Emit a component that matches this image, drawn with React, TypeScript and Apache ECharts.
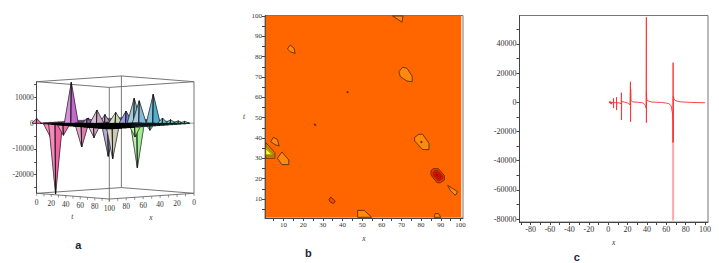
import React, { useEffect, useRef } from "react";
import * as echarts from "echarts";

// ---------- Panel a: surface (t, x, z) ----------
const surfacePeaks = [
  [0, 100, 1800], [8.5, 91.5, -5060], [12, 88, -27400], [17, 83, -4670], [22, 78, 15800],
  [28.6, 71.4, -9200], [32, 68, 1800], [36.4, 63.6, -5580], [38.3, 61.7, 5060], [45.5, 54.5, -12840],
  [48.3, 51.7, -13750], [50.2, 49.8, 4150], [56.8, 43.2, 4670], [62, 38, 9600], [65.2, 34.8, 8690],
  [64, 36, -17250], [62.5, 37.5, -5320], [74.1, 25.9, 11170], [72, 28, -2720],
  [14, 70, 900], [22, 58, 1500], [27, 52, 2400], [31, 46, 2800], [40, 40, 2200], [46, 34, 2600],
  [52, 28, 1800], [60, 18, 1500], [80, 20, 2000], [84, 14, 1300], [90, 10, 900], [94, 6, 700],
];
const zAxisLabels = [10000, 0, -10000, -20000];
const zAxisTicks = [15000, 10000, 5000, 0, -5000, -10000, -15000, -20000, -25000];
const tLabels = [0, 20, 40, 60, 80, 100];
const xLabels = [100, 80, 60, 40, 20, 0];
const axisMarks = [0, 10, 20, 30, 40, 50, 60, 70, 80, 90, 100];
const meshSteps = [0, 5, 10, 15, 20, 25, 30, 35, 40, 45, 50, 55, 60, 65, 70, 75, 80, 85, 90, 95];

// ---------- Panel b: contours of x, t ----------
const contourBase = [[1, 1], [100.4, 1], [100.4, 100], [1, 100]];
const contourLight = [
  [[65.5, 100], [70.3, 97], [70.8, 100]],
  [[13.4, 85.7], [15.4, 84.1], [15.9, 81.6], [13.4, 82.5], [12, 83.8]],
  [[70.6, 74.8], [72.8, 74.3], [75.4, 70.5], [75.5, 67.7], [72.8, 68], [69.4, 70.2], [68.7, 72.6]],
  [[78.8, 41.8], [80.8, 41.8], [84, 37.4], [84, 34.3], [80.8, 34.3], [76.7, 38.5], [76.7, 40.3]],
  [[4.9, 40.3], [6.9, 39.3], [7.8, 36.1], [5.8, 36.7], [3.5, 38.2]],
  [[9.2, 33.1], [12.7, 29.2], [12.7, 26.9], [9.2, 26.9], [6.9, 30]],
  [[93.5, 16.7], [98.6, 13.6], [97.4, 11.8], [94.9, 14.1]],
  [[47.7, 1], [47.7, 4.4], [51.1, 4.4], [54.8, 1]],
  [[86.6, 1], [87.1, 2.8], [88.9, 2.8], [90, 1]],
];
const contourDim = [
  [[34.1, 11], [36.3, 9], [35.5, 7.7], [33.8, 8.5], [33.1, 9.8]],
  [[25.7, 47], [26.5, 46.6], [26.4, 46.1], [25.6, 46.4]],
  [[42.3, 62.8], [42.9, 62.8], [42.9, 62.3], [42.3, 62.3]],
  [[79.9, 38.4], [80.5, 38.2], [80.3, 37.6], [79.8, 37.8]],
];
const contourYellow = [
  [[1, 37.7], [5.6, 32.8], [5.6, 30], [1, 30]],
  [[1, 36.4], [4.8, 32.6], [4.8, 30.8], [1, 30.8]],
  [[1, 35.4], [4.2, 32.4], [4.2, 31.4], [1, 31.4]],
  [[1, 34.6], [3.5, 32.4], [3.5, 31.9], [1, 31.9]],
];
const contourRed = [
  [[86.1, 24.9], [88.8, 24.9], [91.8, 21.6], [91.8, 19.3], [89.8, 18], [88.1, 18], [85, 21.8], [85, 23.9]],
  [[86.7, 24], [88.5, 24], [91, 21.5], [91, 20], [89.5, 19], [88.5, 19], [86, 21.6], [86, 23]],
  [[87.2, 23], [88.3, 23], [90, 21.2], [90, 20.4], [89.2, 20], [88.6, 20], [87, 21.6]],
  [[87.7, 22], [88.2, 22], [89, 21], [88.6, 20.8], [87.9, 21.5]],
];
const bTicks = [5, 10, 15, 20, 25, 30, 35, 40, 45, 50, 55, 60, 65, 70, 75, 80, 85, 90, 95, 100];
const bLabels = [10, 20, 30, 40, 50, 60, 70, 80, 90, 100];

// ---------- Panel c: section line ----------
const sectionLine = [
  [1, 400], [1.5, -600], [2, 800], [2.5, -900], [3, 300], [3.6, -1300], [4, 200], [5.4, -400], [5.5, 2700], [5.55, -3900],
  [5.7, -300], [7, -100], [8.5, -500], [8.6, 3400], [8.65, -5300], [8.9, -300], [11, -300], [13.5, -900], [13.65, 6600], [13.7, -12100],
  [13.9, -400], [14.5, 600], [17, 100], [20, -500], [22.5, -1600], [22.9, -2000], [23, 14100], [23.1, -13300], [23.2, 9000], [23.5, 1500],
  [25, 300], [30, 100], [36, -400], [38.5, -2000], [39.2, -4000], [39.4, 58300], [39.45, -14000], [39.5, 7000], [39.8, 1800], [41, 1000],
  [45, 200], [55, -100], [60, -500], [63, -1000], [65, -2500], [66.5, -8000], [66.8, -15000], [66.9, -27500], [67, 27200], [67.1, -27500],
  [67.2, 4200], [68, 2000], [70, 1000], [75, 300], [85, -50], [100, -300],
];
const sectionTail = [[67, -27500], [67, -81000]];
const cXTicks = [-90, -80, -70, -60, -50, -40, -30, -20, -10, 0, 10, 20, 30, 40, 50, 60, 70, 80, 90, 100];
const cXLabels = [-80, -60, -40, -20, 0, 20, 40, 60, 80, 100];
const cYTicks = [50000, 40000, 30000, 20000, 10000, 0, -10000, -20000, -30000, -40000, -50000, -60000, -70000, -80000];
const cYLabels = [40000, 20000, 0, -20000, -40000, -60000, -80000];

const upStops: [number, string][] = [[0, "#f060a8"], [20, "#c860c8"], [32, "#9868c8"], [38, "#c8a0c0"], [46, "#a890c8"], [50, "#c8d8a8"], [56, "#7068d0"], [62, "#78b8c8"], [65, "#80b8d8"], [74, "#4aa8cc"], [88, "#60e0b8"], [100, "#80f0c0"]];
const downStops: [number, string][] = [[0, "#f060a8"], [12, "#f25a9e"], [20, "#e070b0"], [29, "#d878a8"], [36, "#d8a0b8"], [45, "#8878c8"], [49, "#d8d8a8"], [55, "#c0d8a0"], [62, "#a8f080"], [72, "#70d8c0"], [100, "#60e0b8"]];

const hex = (c: string) => [1, 3, 5].map((i) => parseInt(c.slice(i, i + 2), 16));
const colorAt = (stops: [number, string][], u: number, white = 0) => {
  let a = stops[0], b = stops[stops.length - 1];
  for (let i = 0; i < stops.length - 1; i++) if (u >= stops[i][0] && u <= stops[i + 1][0]) { a = stops[i]; b = stops[i + 1]; break; }
  const f = b[0] === a[0] ? 0 : Math.max(0, Math.min(1, (u - a[0]) / (b[0] - a[0])));
  const ca = hex(a[1]), cb = hex(b[1]);
  const m = ca.map((v, i) => Math.round((v + (cb[i] - v) * f) * (1 - white) + 255 * white));
  return `rgb(${m[0]},${m[1]},${m[2]})`;
};

const Z_BOTTOM = -27200, Z_TOP = 16100, DEPTH = 22.2;
const uOf = (t: number, x: number) => 0.4615 * t + 0.5385 * (100 - x);
const proj = (api: any, t: number, x: number, z: number) => api.coord([uOf(t, x), z - DEPTH * (t + x - 100)]);
const serif = "'Liberation Serif', serif";
const textGray = "#333";

const boxItem = (_: any, api: any) => {
  const P = (t: number, x: number, z: number) => proj(api, t, x, z);
  const corners = [[0, 100], [100, 100], [100, 0], [0, 0]];
  const children: any[] = [];
  const ln = (a: number[], b: number[], w = 0.9) => children.push({ type: "line", shape: { x1: a[0], y1: a[1], x2: b[0], y2: b[1] }, style: { stroke: "#666", lineWidth: w } });
  corners.forEach((c, i) => {
    const n = corners[(i + 1) % 4];
    ln(P(c[0], c[1], Z_BOTTOM), P(n[0], n[1], Z_BOTTOM));
    ln(P(c[0], c[1], Z_TOP), P(n[0], n[1], Z_TOP));
    if (i > 0) ln(P(c[0], c[1], Z_BOTTOM), P(c[0], c[1], Z_TOP));
  });
  axisMarks.forEach((m) => {
    const a = P(m, 100, Z_BOTTOM), b = P(100, m, Z_BOTTOM);
    ln(a, [a[0], a[1] + 2.5], 0.7);
    ln(b, [b[0], b[1] + 2.5], 0.7);
  });
  const lab = (p: number[], text: number | string) => children.push({ type: "text", style: { text: String(text), x: p[0], y: p[1] + 9, align: "center", verticalAlign: "middle", fill: textGray, font: `7.5px ${serif}` } });
  tLabels.forEach((m) => lab(P(m, 100, Z_BOTTOM), m));
  xLabels.forEach((m) => { if (m !== 100) lab(P(100, m, Z_BOTTOM), m); });
  return { type: "group", children };
};

const surfaceItem = (_: any, api: any) => {
  const P = (t: number, x: number, z: number) => proj(api, t, x, z);
  const children: any[] = [];
  const ordered = [...surfacePeaks].sort((a, b) => a[0] + a[1] - (b[0] + b[1]));
  // back half of the plane
  meshSteps.forEach((t) => meshSteps.forEach((x) => {
    if (t + x + 5 > 100) return;
    children.push({ type: "polygon", shape: { points: [P(t, x, 0), P(t + 5, x, 0), P(t + 5, x + 5, 0), P(t, x + 5, 0)] }, style: { fill: colorAt(upStops, uOf(t, x)), stroke: "#333", lineWidth: 0.3, opacity: 0.75 } });
  }));
  ordered.forEach(([t, x, z]) => {
    const small = Math.abs(z) < 3000;
    const w = small ? 3 : 4.4;
    const u = uOf(t, x);
    const stops = z < 0 ? downStops : upStops;
    const tip = P(t, x, z), l = P(t - w, x + w, 0), r = P(t + w, x - w, 0), f = P(t + w, x + w, 0), bk = P(t - w, x - w, 0);
    [[l, bk, 0.15], [r, bk, 0], [l, f, 0.3], [r, f, 0.05]].forEach(([a, b, white]: any) => {
      children.push({ type: "polygon", shape: { points: [a, tip, b] }, style: { fill: colorAt(stops, u, white), stroke: "#111", lineWidth: 0.5 } });
    });
    children.push({ type: "line", shape: { x1: tip[0], y1: tip[1], x2: f[0], y2: f[1] }, style: { stroke: "#111", lineWidth: 0.8 } });
  });
  // front half of the plane
  meshSteps.forEach((t) => meshSteps.forEach((x) => {
    if (t + x + 5 <= 100) return;
    const u = uOf(t, x);
    const dark = u > 10 && u < 60;
    children.push({ type: "polygon", shape: { points: [P(t, x, 0), P(t + 5, x, 0), P(t + 5, x + 5, 0), P(t, x + 5, 0)] }, style: { fill: dark ? "#111" : colorAt(upStops, u), stroke: "#000", lineWidth: dark ? 0.8 : 0.45 } });
  }));
  return { type: "group", children };
};

const contourSeries = (polygons: number[][][], fills: string[], z: number, innerStroke = 0.8) => ({
  type: "custom" as const,
  xAxisIndex: 1,
  yAxisIndex: 1,
  coordinateSystem: "cartesian2d",
  z,
  silent: true,
  data: polygons.map((_, i) => [i, 0]),
  renderItem: (params: any, api: any) => {
    const i = params.dataIndex;
    return {
      type: "polygon",
      shape: { points: polygons[i].map((p) => api.coord(p)) },
      style: { fill: fills[i % fills.length], stroke: z === 2 ? "none" : "#4a2400", lineWidth: i === 0 ? 0.8 : innerStroke },
    };
  },
});

const tickAxis = (over: any) => ({
  axisLine: { show: true, onZero: false, lineStyle: { color: "#444", width: 1 } },
  splitLine: { show: false },
  ...over,
});
const labelStyle = (customValues: number[], size = 7) => ({
  customValues,
  margin: 3,
  color: textGray,
  fontFamily: serif,
  fontSize: size,
  formatter: (v: number) => String(v),
  hideOverlap: false,
});
const nameStyle = { fontFamily: serif, fontStyle: "italic" as const, fontSize: 7.5, color: textGray };

const option: any = {
  animation: false,
  backgroundColor: "#fff",
  grid: [
    { left: 36.7, top: 81.7, width: 157.3, height: 111.6 },
    { left: 265, top: 15.5, width: 198, height: 202.5, show: true, borderColor: "#777", borderWidth: 1, backgroundColor: "#fff" },
    { left: 519.5, top: 15.5, width: 188.5, height: 206.5, show: true, borderColor: "#777", borderWidth: 1, backgroundColor: "#fff" },
  ],
  xAxis: [
    { type: "value", gridIndex: 0, min: 0, max: 100, show: false },
    tickAxis({
      type: "value", gridIndex: 1, min: 0.6, max: 101.3, name: "x", nameLocation: "middle", nameGap: 16, nameTextStyle: nameStyle,
      axisTick: { customValues: bTicks, length: 3, lineStyle: { color: "#444" } }, axisLabel: labelStyle(bLabels),
    }),
    tickAxis({
      type: "value", gridIndex: 2, min: -91.5, max: 103, name: "x", nameLocation: "middle", nameGap: 16, nameTextStyle: nameStyle,
      axisTick: { customValues: cXTicks, length: 3, lineStyle: { color: "#444" } }, axisLabel: labelStyle(cXLabels, 8),
    }),
  ],
  yAxis: [
    tickAxis({
      type: "value", gridIndex: 0, min: Z_BOTTOM, max: Z_TOP,
      axisTick: { customValues: zAxisTicks, length: 2.5, lineStyle: { color: "#444" } }, axisLabel: labelStyle(zAxisLabels, 7.5),
    }),
    tickAxis({
      type: "value", gridIndex: 1, min: 0.65, max: 100.25, name: "t", nameLocation: "middle", nameGap: 20, nameRotate: 0, nameTextStyle: nameStyle,
      axisTick: { customValues: bTicks, length: 3, lineStyle: { color: "#444" } }, axisLabel: labelStyle(bLabels),
    }),
    tickAxis({
      type: "value", gridIndex: 2, min: -82000, max: 59500,
      axisTick: { customValues: cYTicks, length: 3, lineStyle: { color: "#444" } }, axisLabel: labelStyle(cYLabels, 8),
    }),
  ],
  series: [
    { type: "custom", xAxisIndex: 0, yAxisIndex: 0, coordinateSystem: "cartesian2d", z: 2, silent: true, data: [[0, 0]], renderItem: boxItem },
    { type: "custom", xAxisIndex: 0, yAxisIndex: 0, coordinateSystem: "cartesian2d", z: 3, silent: true, data: [[0, 0]], renderItem: surfaceItem },
    contourSeries([contourBase], ["#ff6600"], 2),
    contourSeries(contourLight, ["#ff8a0c"], 3),
    contourSeries(contourDim, ["#ee4a00"], 3),
    contourSeries(contourYellow, ["#e89400", "#c8a400", "#e0d400", "#ffff30"], 3, 0.35),
    contourSeries(contourRed, ["#f03c00", "#d41c00", "#ff0000", "#c00000"], 3, 0.4),
    { type: "line", xAxisIndex: 2, yAxisIndex: 2, data: sectionTail, showSymbol: false, silent: true, lineStyle: { color: "#ffa8a8", width: 2 } },
    { type: "line", xAxisIndex: 2, yAxisIndex: 2, data: sectionLine, showSymbol: false, silent: true, lineStyle: { color: "#ff3030", width: 0.9 } },
  ],
  graphic: [
    { type: "text", x: 78.3, y: 245, style: { text: "a", align: "center", verticalAlign: "middle", fill: "#1a2440", font: "bold 11px 'Liberation Sans', sans-serif" } },
    { type: "text", x: 308.3, y: 253, style: { text: "b", align: "center", verticalAlign: "middle", fill: "#1a2440", font: "bold 11px 'Liberation Sans', sans-serif" } },
    { type: "text", x: 576.7, y: 256.5, style: { text: "c", align: "center", verticalAlign: "middle", fill: "#1a2440", font: "bold 11px 'Liberation Sans', sans-serif" } },
    { type: "text", x: 72.3, y: 216, style: { text: "t", align: "center", verticalAlign: "middle", fill: textGray, font: `italic 7.5px ${serif}` } },
    { type: "text", x: 151, y: 217, style: { text: "x", align: "center", verticalAlign: "middle", fill: textGray, font: `italic 7.5px ${serif}` } },
  ],
};

export default function App() {
  const ref = useRef<HTMLDivElement>(null);
  useEffect(() => {
    const chart = echarts.init(ref.current!, undefined, { renderer: "svg" });
    chart.setOption(option);
    return () => chart.dispose();
  }, []);
  return <div ref={ref} style={{ position: "absolute", left: 0, top: 0, width: 719, height: 263 }} />;
}
